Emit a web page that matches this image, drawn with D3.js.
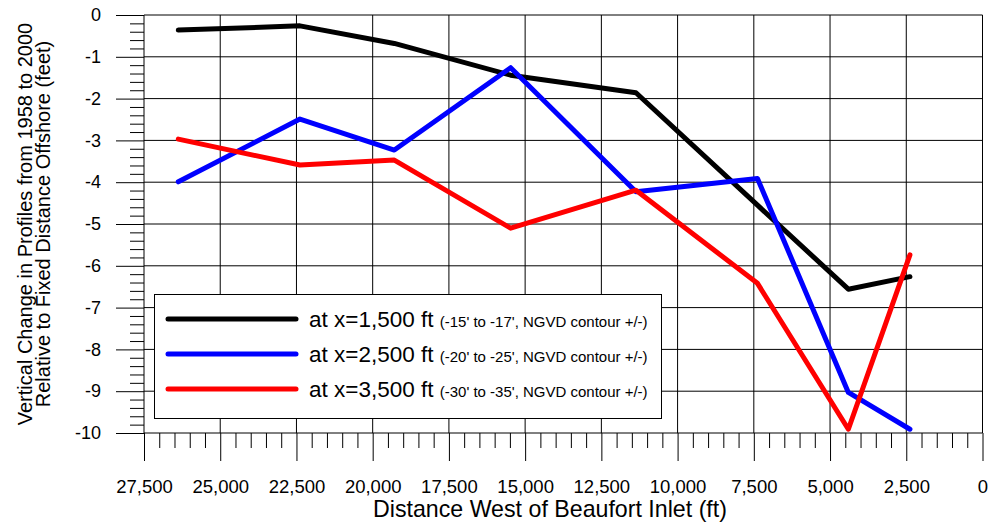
<!DOCTYPE html>
<html>
<head>
<meta charset="utf-8">
<script src="https://cdn.jsdelivr.net/npm/d3@7"></script>
<style>
  html, body { margin: 0; padding: 0; background: #fff; }
  svg { display: block; font-family: "Liberation Sans", Arial, sans-serif; }
</style>
</head>
<body>
<svg id="chart" width="989" height="523"></svg>
<script>
// ---- Data ----
const distances = [26375, 22385, 19290, 15475, 11365, 7380, 4400, 2380];
const seriesNames = ["at x=1,500 ft", "at x=2,500 ft", "at x=3,500 ft"];
const seriesNotes = ["(-15' to -17', NGVD contour +/-)", "(-20' to -25', NGVD contour +/-)", "(-30' to -35', NGVD contour +/-)"];
const seriesColors = ["#000000", "#0000ff", "#ff0000"];
const x1500 = [-0.36, -0.26, -0.68, -1.44, -1.86, -4.55, -6.56, -6.26];
const x2500 = [-3.99, -2.49, -3.23, -1.26, -4.23, -3.91, -9.03, -9.91];
const x3500 = [-2.97, -3.59, -3.47, -5.10, -4.19, -6.42, -9.91, -5.74];
const xMajorTicks = [27500, 25000, 22500, 20000, 17500, 15000, 12500, 10000, 7500, 5000, 2500, 0];
const yMajorTicks = [0, -1, -2, -3, -4, -5, -6, -7, -8, -9, -10];
const xTitle = "Distance West of Beaufort Inlet (ft)";
const yTitle = ["Vertical Change in Profiles from 1958 to 2000", "Relative to Fixed Distance Offshore (feet)"];

const allSeries = [x1500, x2500, x3500];

// ---- Layout ----
const pLeft = 144, pRight = 982.5, pTop = 15, pBottom = 433;
const svg = d3.select("#chart");

const x = d3.scaleLinear().domain([27500, 0]).range([pLeft, pRight]);
const y = d3.scaleLinear().domain([0, -10]).range([pTop, pBottom]);

const xMinor = d3.range(27500, -1, -500).filter(v => v % 2500 !== 0);
const yMinor = d3.range(0, 50).map(i => -i * 0.2).filter(v => Math.abs(v - Math.round(v)) > 1e-6);

// gridlines
const grid = svg.append("g").attr("stroke", "#000").attr("stroke-width", 1);
grid.selectAll("line.h").data(yMajorTicks).join("line").attr("class", "h")
  .attr("x1", pLeft).attr("x2", pRight)
  .attr("y1", d => y(d)).attr("y2", d => y(d));
grid.selectAll("line.v").data(xMajorTicks).join("line").attr("class", "v")
  .attr("x1", d => x(d)).attr("x2", d => x(d))
  .attr("y1", pTop).attr("y2", pBottom);

// y axis major ticks + labels
const yAxis = svg.append("g").attr("transform", `translate(${pLeft},0)`)
  .call(d3.axisLeft(y).tickValues(yMajorTicks).tickSize(28).tickPadding(15)
    .tickFormat(d => String(d)));
yAxis.select(".domain").remove();
yAxis.selectAll("line").attr("stroke", "#000");
yAxis.selectAll("text").attr("font-size", 18).attr("fill", "#000")
  .attr("font-family", "Liberation Sans, Arial, sans-serif");

const yAxisMinor = svg.append("g").attr("transform", `translate(${pLeft},0)`)
  .call(d3.axisLeft(y).tickValues(yMinor).tickSize(14).tickFormat(""));
yAxisMinor.select(".domain").remove();
yAxisMinor.selectAll("line").attr("stroke", "#000");

// x axis
const xAxis = svg.append("g").attr("transform", `translate(0,${pBottom})`)
  .call(d3.axisBottom(x).tickValues(xMajorTicks).tickSize(28).tickPadding(19)
    .tickFormat(d3.format(",")));
xAxis.select(".domain").remove();
xAxis.selectAll("line").attr("stroke", "#000");
xAxis.selectAll("text").attr("font-size", 18.5).attr("fill", "#000")
  .attr("font-family", "Liberation Sans, Arial, sans-serif");

const xAxisMinor = svg.append("g").attr("transform", `translate(0,${pBottom})`)
  .call(d3.axisBottom(x).tickValues(xMinor).tickSize(15).tickFormat(""));
xAxisMinor.select(".domain").remove();
xAxisMinor.selectAll("line").attr("stroke", "#000");

// series lines
const line = d3.line().x((d, i) => x(distances[i])).y(d => y(d));
svg.append("g").selectAll("path").data(allSeries).join("path")
  .attr("d", d => line(d))
  .attr("fill", "none")
  .attr("stroke", (d, i) => seriesColors[i])
  .attr("stroke-width", 5)
  .attr("stroke-linejoin", "round")
  .attr("stroke-linecap", "round");

// legend
const lg = svg.append("g");
lg.append("rect").attr("x", 154.5).attr("y", 294.5).attr("width", 507).attr("height", 124)
  .attr("fill", "#fff").attr("stroke", "#000").attr("stroke-width", 1);
seriesNames.forEach((name, i) => {
  const cy = 319 + i * 35;
  lg.append("line").attr("x1", 168).attr("x2", 296).attr("y1", cy).attr("y2", cy)
    .attr("stroke", seriesColors[i]).attr("stroke-width", 5).attr("stroke-linecap", "round");
  const t = lg.append("text").attr("x", 309).attr("y", cy + 8).attr("fill", "#000");
  t.append("tspan").attr("font-size", 22.5).text(name + " ");
  t.append("tspan").attr("font-size", 15).text(seriesNotes[i]);
});

// axis titles
svg.append("text").attr("x", 373).attr("y", 517).attr("font-size", 23.2).attr("fill", "#000")
  .text(xTitle);
const yc = 224;
svg.append("text").attr("transform", `translate(31.5,${yc}) rotate(-90)`)
  .attr("text-anchor", "middle").attr("font-size", 20).attr("fill", "#000").text(yTitle[0]);
svg.append("text").attr("transform", `translate(50,${yc}) rotate(-90)`)
  .attr("text-anchor", "middle").attr("font-size", 20).attr("fill", "#000").text(yTitle[1]);
</script>
</body>
</html>
